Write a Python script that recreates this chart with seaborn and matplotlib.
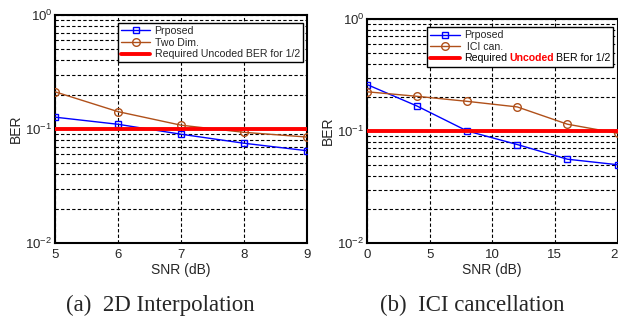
import numpy as np
import pandas as pd
import matplotlib
matplotlib.use("Agg")
import matplotlib.pyplot as plt
import seaborn as sns
from matplotlib.offsetbox import TextArea, HPacker
from matplotlib.ticker import LogLocator, FixedLocator

# ---- data ----
snr_a = [5, 6, 7, 8, 9]
proposed_a = [0.127, 0.110, 0.090, 0.075, 0.0645]
twodim_a = [0.212, 0.142, 0.108, 0.0935, 0.085]

snr_b = [0, 4, 8, 12, 16, 20]
proposed_b = [0.26, 0.167, 0.100, 0.0757, 0.056, 0.050]
ici_b = [0.224, 0.204, 0.184, 0.164, 0.115, 0.0955]

required_ber = [0.1]

labels_a = ["Prposed", "Two Dim.", "Required Uncoded BER for 1/2"]
labels_b = ["Prposed", " ICI can.", "Required Uncoded BER for 1/2"]
xticks_a = [5, 6, 7, 8, 9]
xticks_b = [0, 5, 10, 15, 20]
captions = ["(a)  2D Interpolation", "(b)  ICI cancellation"]

sns.set_style("white")
plt.rcParams["font.family"] = ["Liberation Sans", "DejaVu Sans"]
plt.rcParams["mathtext.fontset"] = "custom"
plt.rcParams["mathtext.rm"] = "Liberation Sans"
plt.rcParams["mathtext.it"] = "Liberation Sans"

BLUE = "#0000ff"
BROWN = "#b0501a"
RED = "#ff0000"
LEGFS = 7.6

fig = plt.figure(figsize=(6.18, 3.22), dpi=100)
ax_a = fig.add_axes([55 / 618, 79 / 322, 252 / 618, 228 / 322])
ax_b = fig.add_axes([367 / 618, 79 / 322, 250.5 / 618, 224 / 322])


def style_axes(ax, xlim, xticks):
    ax.set_yscale("log")
    ax.set_ylim(1e-2, 1)
    ax.set_xlim(*xlim)
    ax.set_xticks(xticks)
    ax.yaxis.set_major_locator(FixedLocator([1e-2, 1e-1, 1]))
    ax.yaxis.set_minor_locator(LogLocator(base=10, subs=np.arange(2, 10)))
    ax.set_yticklabels([r"$\mathregular{10^{-2}}$", r"$\mathregular{10^{-1}}$", r"$\mathregular{10^{0}}$"])
    ax.grid(True, which="major", axis="both", color="black", linestyle=(0, (3, 2)), linewidth=0.8)
    ax.grid(True, which="minor", axis="y", color="black", linestyle=(0, (3, 2)), linewidth=0.8)
    ax.tick_params(axis="both", which="both", direction="in", length=2, labelsize=9.5, pad=2, color="black")
    ax.tick_params(axis="x", which="major", pad=4)
    ax.tick_params(axis="y", which="minor", length=1)
    for s in ax.spines.values():
        s.set_color("black")
        s.set_linewidth(1.5)
    ax.set_xlabel("SNR (dB)", fontsize=10, labelpad=2)
    ax.set_ylabel("BER", fontsize=10, labelpad=2)


def draw_panel(ax, x, y1, y2, labels):
    df1 = pd.DataFrame({"x": x, "y": y1})
    df2 = pd.DataFrame({"x": x, "y": y2})
    sns.lineplot(data=df1, x="x", y="y", ax=ax, color=BLUE, marker="s", markersize=5,
                 markerfacecolor="none", markeredgecolor=BLUE, markeredgewidth=1,
                 linewidth=1, label=labels[0], zorder=3)
    sns.lineplot(data=df2, x="x", y="y", ax=ax, color=BROWN, marker="o", markersize=5.5,
                 markerfacecolor="none", markeredgecolor=BROWN, markeredgewidth=1,
                 linewidth=1, label=labels[1], zorder=3)
    ax.axhline(required_ber[0], color=RED, linewidth=2.8, label=labels[2], zorder=4)


draw_panel(ax_a, snr_a, proposed_a, twodim_a, labels_a)
draw_panel(ax_b, snr_b, proposed_b, ici_b, labels_b)
style_axes(ax_a, (5, 9), xticks_a)
style_axes(ax_b, (0, 20), xticks_b)


def make_legend(ax, anchor, colored):
    leg = ax.legend(loc="upper right", bbox_to_anchor=anchor, fontsize=LEGFS, frameon=True,
                    fancybox=False, edgecolor="black", framealpha=1, borderpad=0.3,
                    labelspacing=0.15, handlelength=2.8, handletextpad=0.4, borderaxespad=0)
    leg.get_frame().set_linewidth(1.0)
    if colored:
        for col in leg._legend_handle_box.get_children():
            for row in col.get_children():
                kids = row.get_children()
                if len(kids) == 2 and isinstance(kids[1], TextArea) and \
                        kids[1].get_text().startswith("Required"):
                    tp = dict(fontsize=LEGFS, color="black")
                    pack = HPacker(children=[
                        TextArea("Required", textprops=tp),
                        TextArea("Uncoded", textprops=dict(fontsize=LEGFS, color=RED, fontweight="bold")),
                        TextArea("BER for 1/2", textprops=tp),
                    ], pad=0, sep=1.6, align="baseline")
                    pack.set_figure(ax.figure)
                    row._children[1] = pack
    return leg


make_legend(ax_a, (0.984, 0.965), False)
make_legend(ax_b, (0.984, 0.964), True)

fig.text(160 / 618, 1 - 305 / 322, captions[0], ha="center", va="center",
         fontsize=16.5, family="Liberation Serif")
fig.text(472 / 618, 1 - 305 / 322, captions[1], ha="center", va="center",
         fontsize=16.5, family="Liberation Serif")

fig.savefig("out.png", dpi=100)
